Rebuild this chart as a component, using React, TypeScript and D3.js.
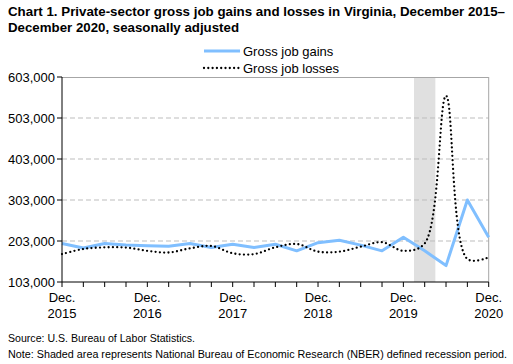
import React from "react";
import * as d3 from "d3";

const quarters = [
  "Dec 2015", "Mar 2016", "Jun 2016", "Sep 2016", "Dec 2016", "Mar 2017", "Jun 2017", "Sep 2017",
  "Dec 2017", "Mar 2018", "Jun 2018", "Sep 2018", "Dec 2018", "Mar 2019", "Jun 2019", "Sep 2019",
  "Dec 2019", "Mar 2020", "Jun 2020", "Sep 2020", "Dec 2020",
];
const gains = [
  197000, 186000, 197000, 193000, 191500, 190000, 197000, 187000,
  195000, 187000, 195000, 179000, 199000, 205000, 193000, 179000,
  212000, 179000, 143000, 303000, 212000,
];
const losses = [
  171000, 183500, 187500, 187000, 179000, 175000, 185000, 190800,
  173000, 171000, 187500, 195700, 177000, 177000, 189000, 200000,
  179000, 197000, 557000, 159000, 163000,
];
const yTicks = [103000, 203000, 303000, 403000, 503000, 603000];
const xLabelIdx = [0, 4, 8, 12, 16, 20];
const xLabelYears = ["2015", "2016", "2017", "2018", "2019", "2020"];
const recession = [16.5, 17.5];

const FONT = "'Liberation Sans', Arial, sans-serif";

export default function App() {
  const W = 513, H = 364;
  const left = 62, right = 488.7, top = 77, bottom = 282;
  const x = d3.scaleLinear().domain([0, quarters.length - 1]).range([left, right]);
  const y = d3.scaleLinear().domain([103000, 603000]).range([bottom, top]);
  const lineLinear = d3.line<number>().x((_, i) => x(i)).y((d) => y(d));
  const lineSmooth = d3.line<number>().x((_, i) => x(i)).y((d) => y(d)).curve(d3.curveCatmullRom.alpha(0.5));
  const fmt = d3.format(",");
  return (
    <svg width={W} height={H} style={{ position: "fixed", left: 0, top: 0, background: "#fff" }} fontFamily={FONT}>
      <text x={8} y={16} fontSize={13} fontWeight="bold" fill="#000" textLength={497} lengthAdjust="spacingAndGlyphs">
        Chart 1. Private-sector gross job gains and losses in Virginia, December 2015–
      </text>
      <text x={8} y={32} fontSize={13} fontWeight="bold" fill="#000" textLength={231} lengthAdjust="spacingAndGlyphs">
        December 2020, seasonally adjusted
      </text>
      {/* legend */}
      <line x1={204} x2={240} y1={51} y2={51} stroke="#80bfff" strokeWidth={3} />
      <text x={243} y={55.5} fontSize={13} fill="#000">Gross job gains</text>
      <line x1={204} x2={240} y1={68} y2={68} stroke="#000" strokeWidth={2.3} strokeDasharray="0 4.3" strokeLinecap="round" />
      <text x={243} y={72.5} fontSize={13} fill="#000">Gross job losses</text>

      {/* recession shading */}
      <rect x={x(recession[0])} y={top} width={x(recession[1]) - x(recession[0])} height={bottom - top} fill="#e0e0e0" />
      {/* gridlines */}
      {yTicks.slice(1, -1).map((t) => (
        <line key={t} x1={left} x2={right} y1={y(t)} y2={y(t)} stroke="#bdbdbd" strokeDasharray="5 3" strokeWidth={1} />
      ))}
      {/* border */}
      <line x1={left} x2={right} y1={top + 0.5} y2={top + 0.5} stroke="#a6a6a6" strokeWidth={1} />
      <line x1={right} x2={right} y1={top} y2={bottom} stroke="#a6a6a6" strokeWidth={1} />
      {/* lines */}
      <path d={lineLinear(gains) || ""} fill="none" stroke="#80bfff" strokeWidth={3} strokeLinejoin="round" />
      <path d={lineSmooth(losses) || ""} fill="none" stroke="#000" strokeWidth={2.3} strokeDasharray="0 4.3" strokeLinecap="round" />
      {/* axes */}
      <line x1={left} x2={left} y1={top} y2={bottom} stroke="#000" strokeWidth={1} />
      <line x1={left} x2={right} y1={bottom} y2={bottom} stroke="#000" strokeWidth={1} />
      {yTicks.map((t) => (
        <g key={t}>
          <line x1={left - 5} x2={left} y1={y(t)} y2={y(t)} stroke="#000" />
          <text x={55} y={y(t) + 4.5} textAnchor="end" fontSize={13} fill="#000">{fmt(t)}</text>
        </g>
      ))}
      {quarters.map((q, i) => (
        <line key={q} x1={x(i)} x2={x(i)} y1={bottom} y2={bottom + 5} stroke="#000" />
      ))}
      {xLabelIdx.map((idx, k) => (
        <g key={idx}>
          <text x={x(idx)} y={302} textAnchor="middle" fontSize={13} fill="#000">Dec.</text>
          <text x={x(idx)} y={318} textAnchor="middle" fontSize={13} fill="#000">{xLabelYears[k]}</text>
        </g>
      ))}
      <text x={8} y={342} fontSize={10.5} fill="#000" textLength={187} lengthAdjust="spacingAndGlyphs">
        Source: U.S. Bureau of Labor Statistics.
      </text>
      <text x={8} y={357.5} fontSize={10} fill="#000" textLength={499} lengthAdjust="spacingAndGlyphs">
        Note: Shaded area represents National Bureau of Economic Research (NBER) defined recession period.
      </text>
    </svg>
  );
}
